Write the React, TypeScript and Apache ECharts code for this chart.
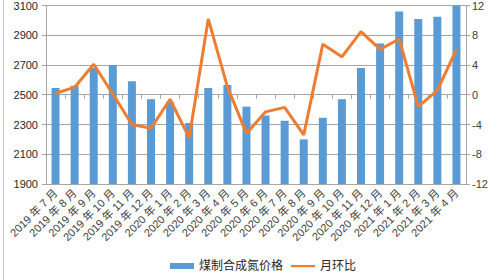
import React, { useEffect, useRef } from "react";
import * as echarts from "echarts";

const categories = [
  "2019 年 7 月", "2019 年 8 月", "2019 年 9 月", "2019 年 10 月", "2019 年 11 月", "2019 年 12 月",
  "2020 年 1 月", "2020 年 2 月", "2020 年 3 月", "2020 年 4 月", "2020 年 5 月", "2020 年 6 月",
  "2020 年 7 月", "2020 年 8 月", "2020 年 9 月", "2020 年 10 月", "2020 年 11 月", "2020 年 12 月",
  "2021 年 1 月", "2021 年 2 月", "2021 年 3 月", "2021 年 4 月",
];
const priceValues = [
  2545, 2560, 2680, 2700, 2590, 2470, 2450, 2310, 2545, 2565, 2420, 2360,
  2325, 2200, 2345, 2470, 2680, 2845, 3060, 3010, 3025, 3100,
];
const momValues = [
  0.2, 1.0, 4.1, 0.1, -4.0, -4.5, -0.6, -5.8, 10.2, 1.1, -5.2, -2.3,
  -1.7, -5.4, 6.8, 5.1, 8.5, 6.1, 7.5, -1.6, 0.6, 6.1,
];
const seriesNames = ["煤制合成氮价格", "月环比"];

const FONT = "'Liberation Sans', 'Noto Sans CJK SC', sans-serif";

export default function App() {
  const ref = useRef<HTMLDivElement>(null);
  useEffect(() => {
    if (!ref.current) return;
    const chart = echarts.init(ref.current, null, { renderer: "svg" });
    chart.setOption({
      animation: false,
      backgroundColor: "#ffffff",
      textStyle: { fontFamily: FONT },
      grid: { left: 46, right: 34, top: 5, bottom: 96 },
      legend: {
        bottom: 3,
        left: 165,
        itemWidth: 24,
        itemHeight: 6,
        itemGap: 8,
        textStyle: { fontSize: 12, color: "#262626", fontFamily: FONT },
        data: [
          { name: seriesNames[0], icon: "rect" },
          { name: seriesNames[1], icon: "path://M0,0 M24,6 M0,2 L24,2 L24,4.2 L0,4.2 Z" },
        ],
      },
      graphic: [
        {
          type: "line",
          shape: { x1: 3.5, y1: 0, x2: 3.5, y2: 280 },
          style: { stroke: "#c8c8c8", lineWidth: 1 },
        },
      ],
      xAxis: {
        type: "category",
        data: categories,
        boundaryGap: true,
        axisLine: { lineStyle: { color: "#a6a6a6" } },
        axisTick: { show: true, alignWithLabel: false, length: 4, lineStyle: { color: "#a6a6a6" } },
        axisLabel: {
          rotate: 45,
          interval: 0,
          fontSize: 11,
          color: "#404040",
          margin: 7,
          fontFamily: FONT,
        },
      },
      yAxis: [
        {
          type: "value",
          min: 1900,
          max: 3100,
          interval: 200,
          axisLine: { show: true, lineStyle: { color: "#a6a6a6" } },
          axisTick: { show: true, length: 4, lineStyle: { color: "#a6a6a6" } },
          axisLabel: {
            fontSize: 11,
            color: "#262626",
            margin: 8,
            fontFamily: FONT,
            formatter: (v: number) => String(v),
          },
          splitLine: { lineStyle: { color: "#a6a6a6" } },
        },
        {
          type: "value",
          min: -12,
          max: 12,
          interval: 4,
          axisLine: { show: true, lineStyle: { color: "#a6a6a6" } },
          axisTick: { show: true, length: 4, lineStyle: { color: "#a6a6a6" } },
          axisLabel: { fontSize: 11, color: "#404040", margin: 6, fontFamily: FONT },
          splitLine: { show: false },
        },
      ],
      series: [
        {
          name: seriesNames[0],
          type: "bar",
          data: priceValues,
          barWidth: 8,
          itemStyle: { color: "#5b9bd5" },
          yAxisIndex: 0,
        },
        {
          name: seriesNames[1],
          type: "line",
          data: momValues,
          yAxisIndex: 1,
          symbol: "none",
          lineStyle: { color: "#ed7d31", width: 3 },
          itemStyle: { color: "#ed7d31" },
        },
      ],
    });
    return () => chart.dispose();
  }, []);
  return (
    <div
      ref={ref}
      style={{ position: "fixed", left: 0, top: 0, width: 500, height: 280 }}
    />
  );
}
